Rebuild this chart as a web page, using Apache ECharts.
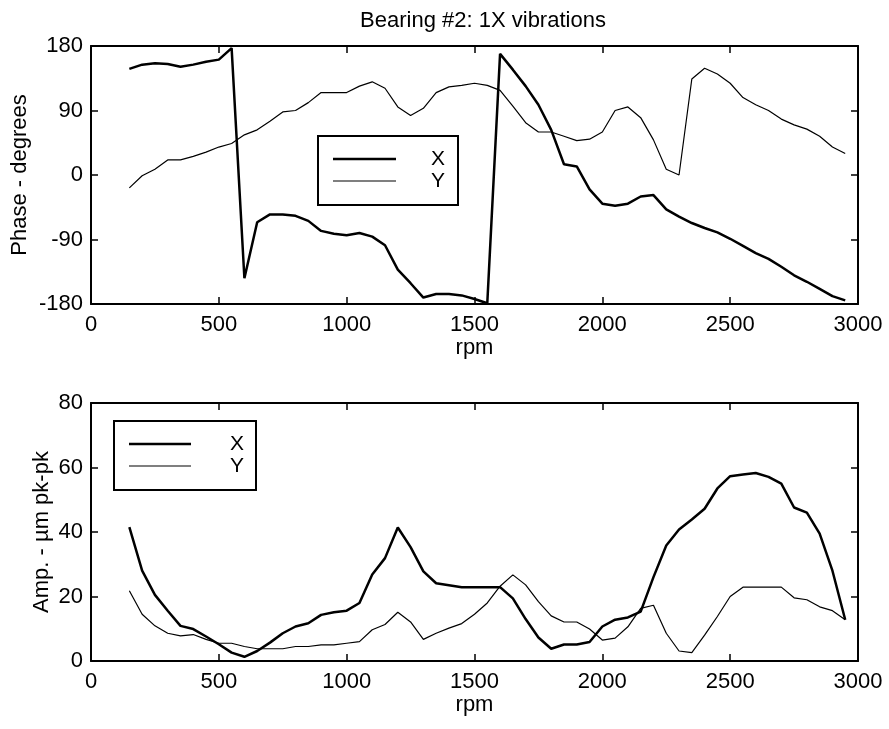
<!DOCTYPE html>
<html>
<head>
<meta charset="utf-8">
<script src="https://cdn.jsdelivr.net/npm/echarts@6/dist/echarts.min.js"></script>
<style>
  html, body { margin: 0; padding: 0; background: #fff; }
  #chart { width: 889px; height: 729px; }
</style>
</head>
<body>
<div id="chart"></div>
<script>
const rpm = [150, 200, 250, 300, 350, 400, 450, 500, 550, 600, 650, 700, 750, 800, 850, 900, 950, 1000,
  1050, 1100, 1150, 1200, 1250, 1300, 1350, 1400, 1450, 1500, 1550, 1600, 1650, 1700, 1750, 1800, 1850,
  1900, 1950, 2000, 2050, 2100, 2150, 2200, 2250, 2300, 2350, 2400, 2450, 2500, 2550, 2600, 2650, 2700,
  2750, 2800, 2850, 2900, 2950]

// phase, degrees
const phaseX = [148, 154, 156, 155, 151, 154, 158, 161, 177, -144, -66, -55, -55, -57, -64, -78, -82, -84,
  -81, -86, -98, -132, -151, -171, -166, -166, -168, -173, -179, 169, 147, 124, 98, 63, 15,
  12, -20, -40, -43, -40, -30, -28, -48, -58, -67, -74, -80, -89, -99, -109, -117, -128,
  -140, -149, -159, -169, -175]
const phaseY = [-18, -1, 8, 21, 21, 26, 32, 39, 44, 56, 63, 75, 88, 90, 101, 115, 115, 115,
  124, 130, 121, 95, 83, 93, 115, 123, 125, 128, 125, 118, 96, 73, 60, 60, 54,
  48, 50, 60, 90, 95, 80, 49, 8, 0, 134, 149, 141, 128, 108, 98, 90, 78,
  70, 64, 54, 39, 30]

// amplitude, um pk-pk
const ampX = [41.5, 28, 20.5, 15.6, 10.9, 9.9, 7.6, 5.2, 2.6, 1.3, 3.1, 5.7, 8.6, 10.7, 11.7, 14.3, 15.1, 15.6,
  18, 26.8, 31.9, 41.4, 35.3, 27.8, 24.1, 23.5, 22.9, 22.9, 22.9, 22.9, 19.4, 13, 7.3, 3.8, 5.1,
  5.1, 5.9, 10.7, 12.8, 13.5, 15.3, 26, 35.8, 40.8, 43.9, 47.2, 53.5, 57.3, 57.8, 58.3, 57.1, 55,
  47.6, 46, 39.5, 28, 12.8]
const ampY = [21.8, 14.5, 10.9, 8.6, 7.8, 8.2, 6.7, 5.5, 5.5, 4.5, 3.8, 3.8, 3.8, 4.5, 4.5, 5, 5, 5.5,
  6, 9.7, 11.3, 15.1, 12.1, 6.7, 8.6, 10.2, 11.6, 14.5, 18, 23.2, 26.7, 23.6, 18.4, 14, 12.1,
  12.1, 9.9, 6.5, 7.1, 10.6, 16.3, 17.3, 8.6, 3.1, 2.6, 8, 13.8, 20, 22.9, 22.9, 22.9, 22.9,
  19.6, 19, 16.8, 15.6, 12.8]

const FONT = 'Liberation Sans, Arial, sans-serif'
const BLACK = '#000000'

const pairs = (ys) => rpm.map((r, i) => [r, ys[i]])

const chart = echarts.init(document.getElementById('chart'))

const axisBase = {
  axisLine: { show: true, onZero: false, lineStyle: { color: BLACK, width: 2 } },
  axisTick: { show: true, inside: true, length: 7, lineStyle: { color: BLACK, width: 1.5 } },
  splitLine: { show: false },
}

const xMain = (gridIndex) => ({
  ...axisBase,
  type: 'value', gridIndex, position: 'bottom',
  min: 0, max: 3000, interval: 500,
  axisLabel: { color: BLACK, fontSize: 22, fontFamily: FONT, margin: 10, formatter: (v) => String(v) },
  name: 'rpm', nameLocation: 'middle', nameGap: 32,
  nameTextStyle: { color: BLACK, fontSize: 22, fontFamily: FONT },
})
const xTop = (gridIndex) => ({
  ...axisBase,
  type: 'value', gridIndex, position: 'top',
  min: 0, max: 3000, interval: 500,
  axisLabel: { show: false },
})
const yMain = (gridIndex, min, max, interval, name, gap) => ({
  ...axisBase,
  type: 'value', gridIndex, position: 'left',
  min, max, interval,
  axisLabel: { color: BLACK, fontSize: 22, fontFamily: FONT, margin: 8 },
  name, nameLocation: 'middle', nameGap: gap, nameRotate: 90, nameMoveOverlap: false,
  nameTextStyle: { color: BLACK, fontSize: 22, fontFamily: FONT },
})
const yRight = (gridIndex, min, max, interval) => ({
  ...axisBase,
  type: 'value', gridIndex, position: 'right',
  min, max, interval,
  axisLabel: { show: false },
})

const lineSeries = (name, xi, yi, data, width) => ({
  name, type: 'line', xAxisIndex: xi, yAxisIndex: yi,
  data, symbol: 'none', animation: false,
  lineStyle: { color: BLACK, width },
})

// legend box: [x, y, w, h], line start/end, row y's, text x
const legendBox = (x, y, w, h, l0, l1, r0, r1, tx) => ([
  { type: 'rect', shape: { x, y, width: w, height: h },
    style: { fill: '#fff', stroke: BLACK, lineWidth: 2 }, z: 100 },
  { type: 'line', shape: { x1: l0, y1: r0, x2: l1, y2: r0 },
    style: { stroke: BLACK, lineWidth: 2.5 }, z: 101 },
  { type: 'line', shape: { x1: l0, y1: r1, x2: l1, y2: r1 },
    style: { stroke: BLACK, lineWidth: 1.2 }, z: 101 },
  { type: 'text', x: tx, y: r0, z: 101,
    style: { text: 'X', fill: BLACK, font: '21px ' + FONT, align: 'center', verticalAlign: 'middle' } },
  { type: 'text', x: tx, y: r1, z: 101,
    style: { text: 'Y', fill: BLACK, font: '21px ' + FONT, align: 'center', verticalAlign: 'middle' } },
])

const option = {
  backgroundColor: '#ffffff',
  animation: false,
  title: {
    text: 'Bearing #2: 1X vibrations',
    left: 478, top: 5, textAlign: 'center',
    textStyle: { color: BLACK, fontSize: 22, fontWeight: 'normal', fontFamily: FONT },
  },
  grid: [
    { left: 91, top: 46, width: 767, height: 258 },
    { left: 91, top: 403, width: 767, height: 258 },
  ],
  xAxis: [xMain(0), xTop(0), xMain(1), xTop(1)],
  yAxis: [
    yMain(0, -180, 180, 90, 'Phase - degrees', 60),
    yRight(0, -180, 180, 90),
    yMain(1, 0, 80, 20, 'Amp. - µm pk-pk', 38),
    yRight(1, 0, 80, 20),
  ],
  series: [
    lineSeries('X', 0, 0, pairs(phaseX), 2.5),
    lineSeries('Y', 0, 0, pairs(phaseY), 1.2),
    lineSeries('X', 2, 2, pairs(ampX), 2.5),
    lineSeries('Y', 2, 2, pairs(ampY), 1.2),
  ],
  graphic: [
    ...legendBox(318, 136, 140, 69, 333, 396, 159, 181, 438),
    ...legendBox(114, 421, 142, 69, 129, 191, 444, 466, 237),
  ],
}

chart.setOption(option)
</script>
</body>
</html>
